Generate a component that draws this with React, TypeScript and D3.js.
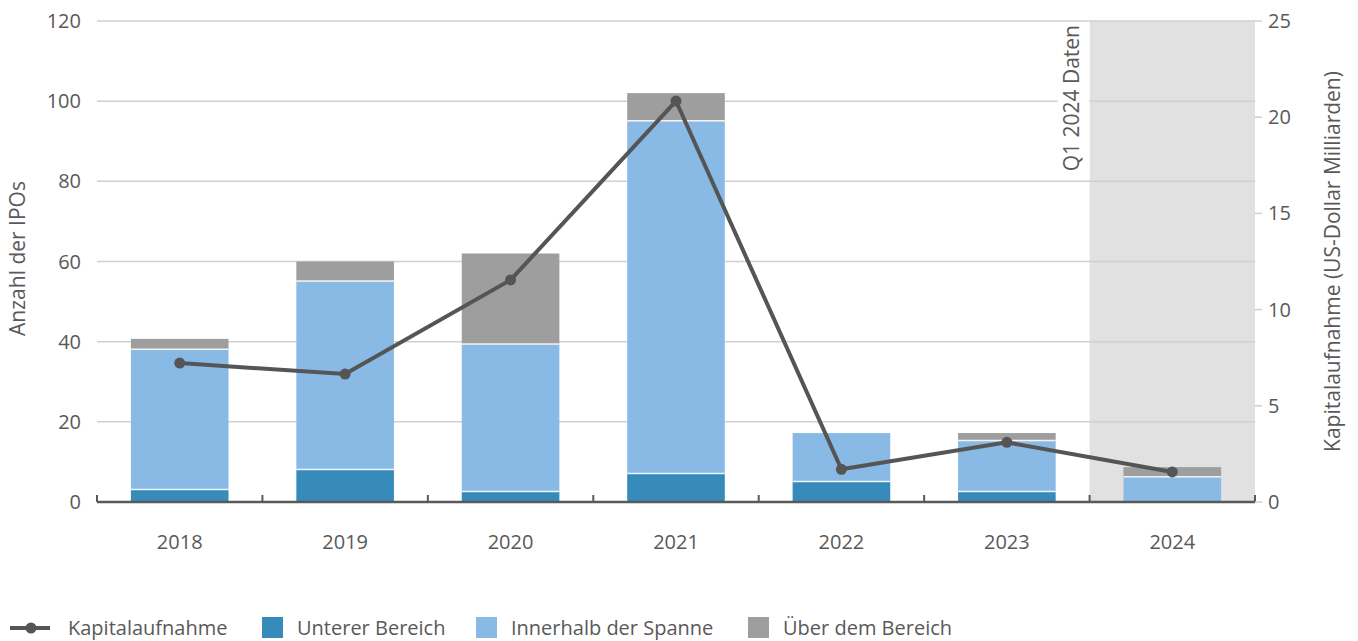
import * as d3 from 'd3'

const years = ['2018', '2019', '2020', '2021', '2022', '2023', '2024']
const unterer = [3, 8, 2.5, 7, 5, 2.5, 0]
const innerhalb = [35, 47, 36.8, 88, 12.2, 12.7, 6.2]
const ueber = [2.7, 5, 22.7, 7, 0, 2, 2.5]
const kapital = [7.22, 6.65, 11.54, 20.84, 1.7, 3.1, 1.56]
const leftTicks = [0, 20, 40, 60, 80, 100, 120]
const rightTicks = [0, 5, 10, 15, 20, 25]

const seriesKeys = ['unterer', 'innerhalb', 'ueber']
const colors: Record<string, string> = {
  unterer: '#378bba',
  innerhalb: '#89bae5',
  ueber: '#9e9e9e',
}
const legendItems = [
  { key: 'unterer', label: 'Unterer Bereich' },
  { key: 'innerhalb', label: 'Innerhalb der Spanne' },
  { key: 'ueber', label: 'Über dem Bereich' },
]

const width = 1358
const height = 641
const marginLeft = 97
const marginRight = 103
const marginTop = 21
const marginBottom = 139
const textColor = '#595959'
const font = '"Open Sans", sans-serif'

export default function App() {
  const table = years.map((year, i) => ({
    year,
    unterer: unterer[i],
    innerhalb: innerhalb[i],
    ueber: ueber[i],
  }))
  const stacked = d3.stack<any>().keys(seriesKeys)(table)

  const x = d3.scaleBand(years, [marginLeft, width - marginRight]).paddingInner(0.41).paddingOuter(0.205)
  const band = d3.scaleBand(years, [marginLeft, width - marginRight])
  const y = d3.scaleLinear([0, 120], [height - marginBottom, marginTop])
  const y2 = d3.scaleLinear([0, 25], [height - marginBottom, marginTop])
  const cx = (i: number) => x(years[i])! + x.bandwidth() / 2
  const line = d3.line<number>((d, i) => cx(i), (d) => y2(d))

  const baseY = height - marginBottom
  const lastBand = band('2024')!

  return (
    <svg
      width={width}
      height={height}
      style={{ position: 'absolute', left: 0, top: 0, fontFamily: font }}
    >
      <rect x={lastBand} y={marginTop} width={band.bandwidth()} height={baseY - marginTop} fill="#e1e1e1" />
      <g stroke="#d0d0d0" strokeWidth={1.5}>
        {leftTicks.slice(1).map((t) => (
          <line key={t} x1={marginLeft} x2={width - marginRight} y1={y(t)} y2={y(t)} />
        ))}
      </g>
      <rect x={lastBand - 32} y={marginTop + 1.5} width={32} height={156} fill="#fff" />
      <text
        transform={`translate(${lastBand - 10.5},${marginTop + 4}) rotate(-90)`}
        textAnchor="end"
        fontSize={21}
        fill={textColor}
      >
        Q1 2024 Daten
      </text>

      {stacked.map((layer) => (
        <g key={layer.key} fill={colors[layer.key]}>
          {layer.map((d, i) =>
            d[1] - d[0] > 0 ? (
              <rect
                key={i}
                x={x(years[i])}
                y={y(d[1])}
                width={x.bandwidth()}
                height={y(d[0]) - y(d[1])}
              />
            ) : null,
          )}
        </g>
      ))}
      <g stroke="#ffffff" strokeOpacity={0.85} strokeWidth={1.5}>
        {stacked.slice(0, 2).map((layer) =>
          layer.map((d, i) =>
            d[1] > 0 && d[1] < stacked[2][i][1] ? (
              <line
                key={layer.key + i}
                x1={x(years[i])}
                x2={x(years[i])! + x.bandwidth()}
                y1={y(d[1]) - 0.5}
                y2={y(d[1]) - 0.5}
              />
            ) : null,
          ),
        )}
      </g>

      <line x1={marginLeft} x2={width - marginRight} y1={baseY} y2={baseY} stroke={textColor} strokeWidth={2.5} />
      <g stroke={textColor} strokeWidth={2}>
        {[...years.map((yr) => band(yr)!), width - marginRight].map((bx, i) => (
          <line key={i} x1={bx} x2={bx} y1={baseY} y2={baseY - 7} />
        ))}
      </g>
      <g stroke="#d0d0d0" strokeWidth={1.5}>
        {rightTicks.map((t) => (
          <line key={t} x1={width - marginRight} x2={width - marginRight + 7} y1={y2(t)} y2={y2(t)} />
        ))}
      </g>

      <path d={line(kapital) || undefined} fill="none" stroke="#555555" strokeWidth={4} />
      <g fill="#555555">
        {kapital.map((v, i) => (
          <circle key={i} cx={cx(i)} cy={y2(v)} r={5.5} />
        ))}
      </g>

      <g fontSize={20} fill={textColor}>
        {leftTicks.map((t) => (
          <text key={t} x={marginLeft - 16} y={y(t)} dy="0.35em" textAnchor="end">
            {t}
          </text>
        ))}
        {rightTicks.map((t) => (
          <text key={t} x={width - marginRight + 13} y={y2(t)} dy="0.35em">
            {t}
          </text>
        ))}
        {years.map((yr) => (
          <text key={yr} x={x(yr)! + x.bandwidth() / 2} y={542} dy="0.35em" textAnchor="middle">
            {yr}
          </text>
        ))}
      </g>
      <g fontSize={21} fill={textColor}>
        <text transform={`translate(25,${(marginTop + baseY) / 2 - 3}) rotate(-90)`} textAnchor="middle">
          Anzahl der IPOs
        </text>
        <text transform={`translate(1340,${(marginTop + baseY) / 2}) rotate(-90)`} textAnchor="middle">
          Kapitalaufnahme (US-Dollar Milliarden)
        </text>
      </g>

      <g fontSize={20} fill={textColor}>
        <line x1={10} x2={50} y1={628} y2={628} stroke="#555555" strokeWidth={4} />
        <circle cx={31} cy={628} r={5.5} fill="#555555" />
        <text x={68} y={628} dy="0.35em">
          Kapitalaufnahme
        </text>
        {legendItems.map((item, i) => {
          const lx = [262, 476, 748][i]
          return (
            <g key={item.key}>
              <rect x={lx} y={617} width={21} height={21} fill={colors[item.key]} />
              <text x={lx + 35} y={628} dy="0.35em">
                {item.label}
              </text>
            </g>
          )
        })}
      </g>
    </svg>
  )
}
